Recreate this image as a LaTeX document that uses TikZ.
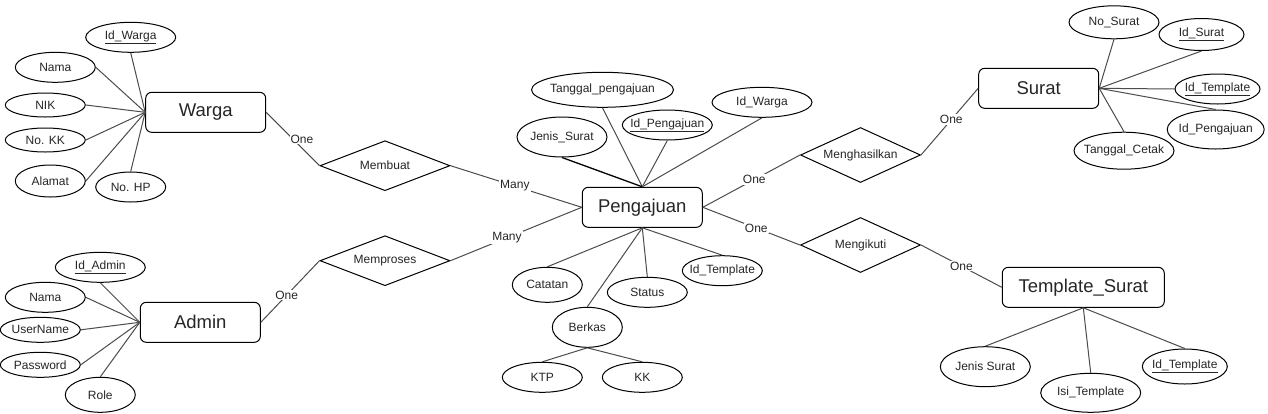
\documentclass[tikz,border=0pt]{standalone}
\usepackage{fontspec}
\setmainfont{Liberation Sans}
\usetikzlibrary{shapes.geometric}
\begin{document}
\begin{tikzpicture}[x=1pt,y=-1pt,
 ent/.style={draw=black, line width=1pt, rounded corners=6pt, minimum width=120pt, minimum height=40pt, inner sep=0pt, text=black!85, font=\fontsize{18.5}{22}\selectfont},
 attr/.style={draw=black, line width=1pt, ellipse, inner ysep=0pt, inner xsep=-10pt, text=black!85, font=\fontsize{12}{14}\selectfont},
 rel/.style={draw=black, line width=1pt, diamond, aspect=2.4, inner sep=0pt, minimum width=130pt, minimum height=50pt, text=black!85, font=\fontsize{12}{14}\selectfont},
 conn/.style={draw=black!70, line width=1pt},
 lbl/.style={fill=white, inner sep=1pt, text=black!85, font=\fontsize{12}{14}\selectfont},
 sz/.style 2 args={minimum width=#1pt, minimum height=#2pt},
]
\fill[white] (0,0) rectangle (1268,413);
\useasboundingbox (0,0) rectangle (1268,413);

% Warga
\node[ent] (warga) at (205.7,112.3) {Warga};
\node[attr, sz={90}{30}] (idw) at (130.7,37.3) {\underline{Id\_Warga}};
\node[attr, sz={80}{30}] (nama1) at (55.3,67.3) {Nama};
\node[attr, sz={80}{24}] (nik) at (45.3,105) {NIK};
\node[attr, sz={80}{24}] (nokk) at (45.3,140) {No. KK};
\node[attr, sz={70}{32}] (alamat) at (50.3,181) {Alamat};
\node[attr, sz={70}{30}] (nohp) at (130.7,187) {No. HP};
\draw[conn] (idw.south) -- (warga.west);
\draw[conn] (nama1.east) -- (warga.west);
\draw[conn] (nik.east) -- (warga.west);
\draw[conn] (nokk.east) -- (warga.west);
\draw[conn] (alamat.east) -- (warga.west);
\draw[conn] (nohp.north) -- (warga.west);

% Admin
\node[ent] (admin) at (200.3,322.3) {Admin};
\node[attr, sz={90}{30}] (ida) at (100.3,267.3) {\underline{Id\_Admin}};
\node[attr, sz={80}{30}] (nama2) at (45.3,297.3) {Nama};
\node[attr, sz={80}{25}] (user) at (40.3,329.8) {UserName};
\node[attr, sz={80}{25}] (pass) at (40.3,364.8) {Password};
\node[attr, sz={70}{35}] (role) at (100.3,394.8) {Role};
\draw[conn] (ida.south) -- (admin.west);
\draw[conn] (nama2.east) -- (admin.west);
\draw[conn] (user.east) -- (admin.west);
\draw[conn] (pass.east) -- (admin.west);
\draw[conn] (role.north) -- (admin.west);

% Relationships left
\node[rel] (membuat) at (385,165.7) {Membuat};
\node[rel] (memproses) at (385,260.7) {Memproses};

% Pengajuan
\node[ent] (peng) at (642.3,207.3) {Pengajuan};
\node[attr, sz={142}{35}] (tglp) at (602.5,89.8) {Tanggal\_pengajuan};
\node[attr, sz={90}{40}] (jenis) at (562,137) {Jenis\_Surat};
\node[attr, sz={90}{30}] (idp) at (667.3,125) {\underline{Id\_Pengajuan}};
\node[attr, sz={100}{30}] (idw2) at (762,102.3) {Id\_Warga};
\node[attr, sz={70}{35}] (catatan) at (547.3,284.8) {Catatan};
\node[attr, sz={80}{30}] (status) at (647.3,292.3) {Status};
\node[attr, sz={80}{30}] (idt1) at (722.3,270.7) {Id\_Template};
\node[attr, sz={70}{40}] (berkas) at (587.3,327.3) {Berkas};
\node[attr, sz={80}{30}] (ktp) at (542.3,377.3) {KTP};
\node[attr, sz={80}{30}] (kk) at (642.3,377.3) {KK};
\draw[conn] (tglp.south) -- (peng.north);
\draw[conn, draw=black, line width=1.3pt] (jenis.south) -- (peng.north);
\draw[conn] (idp.south) -- (peng.north);
\draw[conn] (idw2.south) -- (peng.north);
\draw[conn] (catatan.north) -- (peng.south);
\draw[conn] (status.north) -- (peng.south);
\draw[conn] (idt1.north) -- (peng.south);
\draw[conn] (berkas.north) -- (peng.south);
\draw[conn] (ktp.north) -- (berkas.south);
\draw[conn] (kk.north) -- (berkas.south);

% Relationships right
\node[rel, minimum width=120pt, minimum height=55pt] (mengh) at (860.5,155) {Menghasilkan};
\node[rel, minimum width=120pt, minimum height=55pt] (mengi) at (860.5,245) {Mengikuti};

% Surat
\node[ent] (surat) at (1038.7,88.3) {Surat};
\node[attr, sz={90}{33}] (nosurat) at (1114,22.3) {No\_Surat};
\node[attr, sz={85}{32}] (ids) at (1201.5,34.5) {\underline{Id\_Surat}};
\node[attr, sz={85}{30}] (idt2) at (1217.5,89) {\underline{Id\_Template}};
\node[attr, sz={97}{39}] (idp2) at (1215.7,129.5) {Id\_Pengajuan};
\node[attr, sz={100}{37}] (tglc) at (1124,150.7) {Tanggal\_Cetak};
\draw[conn] (nosurat.south) -- (surat.east);
\draw[conn] (ids.south) -- (surat.east);
\draw[conn] (idt2.west) -- (surat.east);
\draw[conn] (idp2.north) -- (surat.east);
\draw[conn] (tglc.north) -- (surat.east);

% Template_Surat
\node[ent, minimum width=162pt] (tmpl) at (1083.3,287.3) {Template\_Surat};
\node[attr, sz={90}{40}] (jenis2) at (985.3,366.7) {Jenis Surat};
\node[attr, sz={100}{39}] (isi) at (1090.7,392.8) {Isi\_Template};
\node[attr, sz={85}{35}] (idt3) at (1184.8,366.5) {\underline{Id\_Template}};
\draw[conn] (jenis2.north) -- (tmpl.south);
\draw[conn] (isi.north) -- (tmpl.south);
\draw[conn] (idt3.north) -- (tmpl.south);

% Relationship connectors
\draw[conn] (warga.east) -- node[lbl, pos=0.5, xshift=9pt] {One} (membuat.west);
\draw[conn] (membuat.east) -- node[lbl, pos=0.49] {Many} (peng.west);
\draw[conn] (admin.east) -- node[lbl, pos=0.44] {One} (memproses.west);
\draw[conn] (memproses.east) -- node[lbl, pos=0.43] {Many} (peng.west);
\draw[conn] (peng.east) -- node[lbl, pos=0.53] {One} (mengh.west);
\draw[conn] (mengh.east) -- node[lbl, pos=0.53] {One} (surat.west);
\draw[conn] (peng.east) -- node[lbl, pos=0.55] {One} (mengi.west);
\draw[conn] (mengi.east) -- node[lbl, pos=0.5] {One} (tmpl.west);
\end{tikzpicture}
\end{document}
